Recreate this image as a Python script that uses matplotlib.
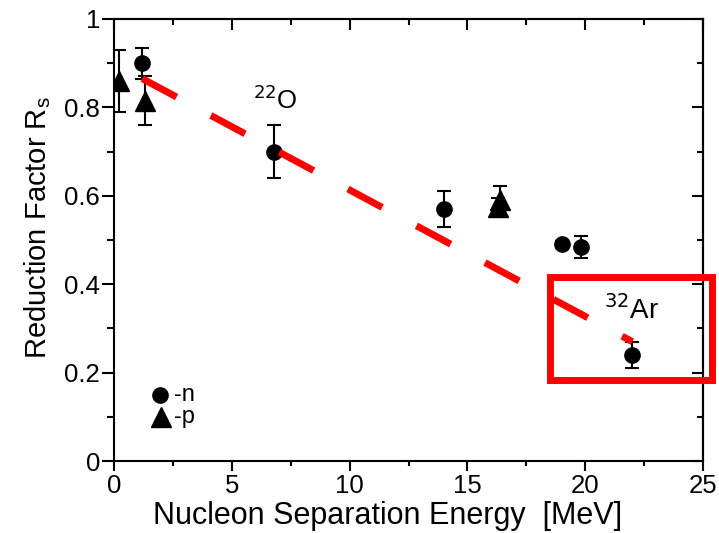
import matplotlib
matplotlib.use("Agg")
import matplotlib.pyplot as plt
from matplotlib.patches import Rectangle
from matplotlib.ticker import MultipleLocator, NullFormatter

plt.rcParams['font.family'] = ['Liberation Sans', 'DejaVu Sans']

# data
n_x = [1.2, 6.8, 14.0, 19.0, 19.8, 22.0]
n_y = [0.90, 0.70, 0.57, 0.49, 0.485, 0.24]
n_err = [0.035, 0.06, 0.04, 0.008, 0.025, 0.03]

p_x = [0.2, 1.3, 16.3, 16.4]
p_y = [0.86, 0.815, 0.575, 0.59]
p_err = [0.07, 0.055, 0.02, 0.032]

fit_x = [1.2, 22.0]
fit_y = [0.865, 0.27]

y_ticks = [0, 0.2, 0.4, 0.6, 0.8, 1.0]
y_ticklabels = ['0', '0.2', '0.4', '0.6', '0.8', '1']

fig = plt.figure(figsize=(7.19, 5.33), dpi=100)
ax = fig.add_axes([0.1586, 0.135, 0.8192, 0.8294])

ax.errorbar(n_x, n_y, yerr=n_err, fmt='o', color='black', ms=11, capsize=5, elinewidth=1.5, capthick=1.5, zorder=3)
ax.errorbar(p_x, p_y, yerr=p_err, fmt='^', color='black', ms=14, capsize=5, elinewidth=1.5, capthick=1.5, zorder=3)
ax.plot(fit_x, fit_y, color='red', lw=5, dashes=(5.6, 5.6), zorder=4)

rect = Rectangle((18.5, 0.183), 6.88, 0.233, fill=False, edgecolor='red', lw=5, clip_on=False, zorder=5)
ax.add_patch(rect)

ax.text(5.9, 0.817, r'$^{22}$O', fontsize=18.5, ha='left', va='center')
ax.text(20.8, 0.341, r'$^{32}$Ar', fontsize=20, ha='left', va='center')

ax.plot([1.93], [0.149], 'o', color='black', ms=11)
ax.plot([2.0], [0.10], '^', color='black', ms=14)
ax.text(2.55, 0.149, '-n', fontsize=17, va='center')
ax.text(2.55, 0.10, '-p', fontsize=17, va='center')

ax.set_xlim(0, 25)
ax.set_ylim(0, 1)
ax.xaxis.set_major_locator(MultipleLocator(5))
ax.xaxis.set_minor_locator(MultipleLocator(2.5))
ax.set_yticks(y_ticks)
ax.set_yticklabels(y_ticklabels)
ax.yaxis.set_minor_locator(MultipleLocator(0.1))
ax.tick_params(which='both', direction='out', width=1.5, labelsize=18.5)
ax.tick_params(axis='x', which='major', length=7.5, pad=2)
ax.tick_params(axis='x', which='minor', length=3.5)
ax.tick_params(axis='y', which='major', length=9, pad=1)
ax.tick_params(axis='y', which='minor', length=5)
for s in ax.spines.values():
    s.set_linewidth(1.5)

# top and right axes: inward ticks, no labels
secx = ax.secondary_xaxis('top')
secx.xaxis.set_major_locator(MultipleLocator(5))
secx.xaxis.set_minor_locator(MultipleLocator(2.5))
secx.xaxis.set_major_formatter(NullFormatter())
secx.tick_params(which='both', direction='in', width=1.5)
secx.tick_params(which='major', length=8)
secx.tick_params(which='minor', length=4.5)
secx.spines['top'].set_linewidth(1.5)

secy = ax.secondary_yaxis('right')
secy.yaxis.set_major_locator(MultipleLocator(0.2))
secy.yaxis.set_minor_locator(MultipleLocator(0.1))
secy.yaxis.set_major_formatter(NullFormatter())
secy.tick_params(which='both', direction='in', width=1.5)
secy.tick_params(which='major', length=8)
secy.tick_params(which='minor', length=4.5)
secy.spines['right'].set_linewidth(1.5)

ax.set_xlabel('Nucleon Separation Energy  [MeV]', fontsize=22)
ax.xaxis.label.set_va('top')
ax.xaxis.set_label_coords(0.465, -0.09)
ax.set_ylabel(r'Reduction Factor R$_\mathregular{s}$', fontsize=21)
ax.yaxis.set_label_coords(-0.104, 0.527)

fig.savefig('out.png', dpi=100)
